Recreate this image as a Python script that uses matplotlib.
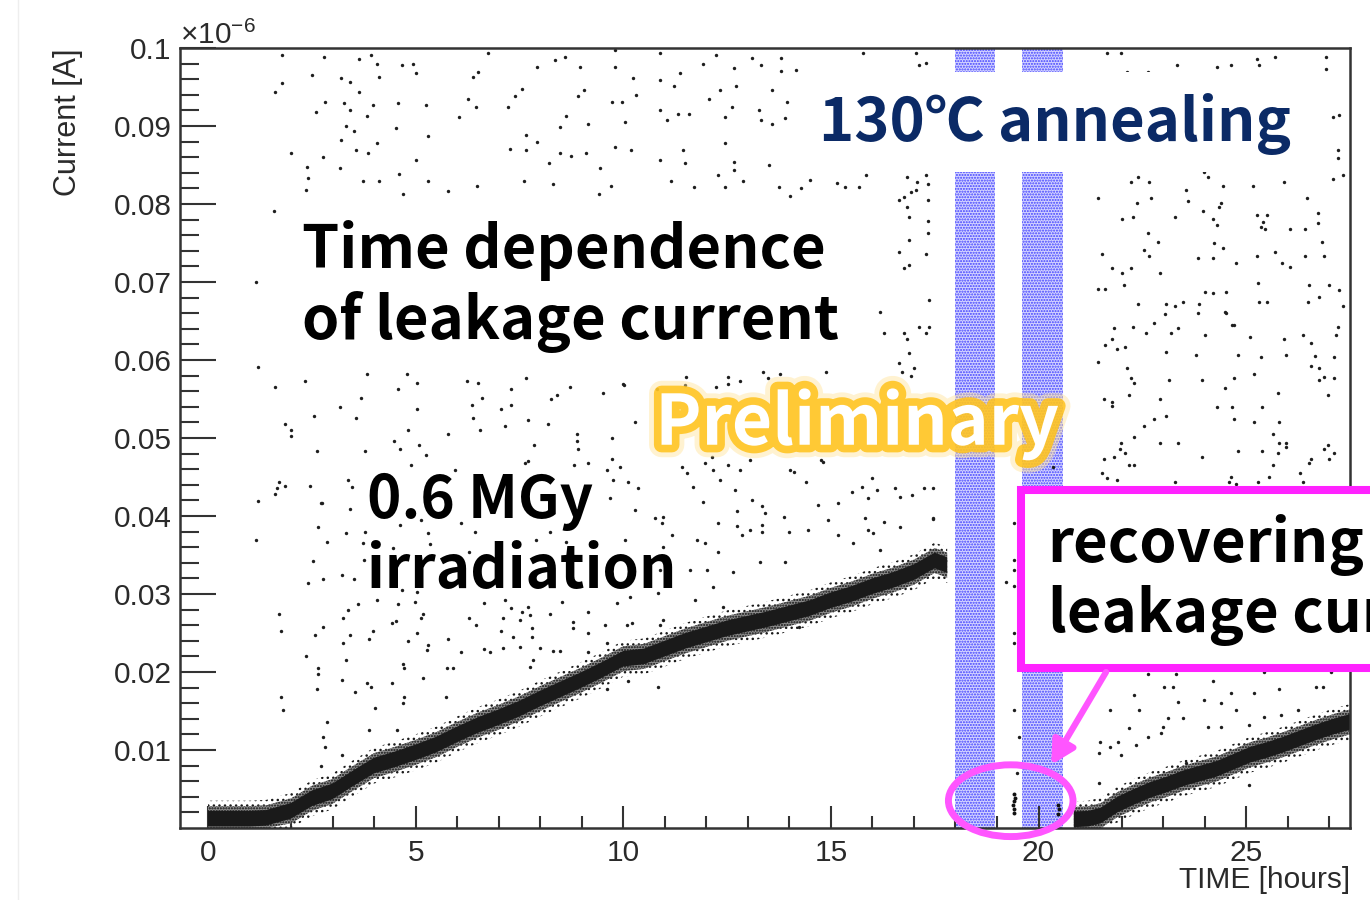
import matplotlib
matplotlib.use('Agg')
import matplotlib.pyplot as plt
import matplotlib.patheffects as pe
from matplotlib.patches import Rectangle, Ellipse
from matplotlib.lines import Line2D
import numpy as np

plt.rcParams['font.family'] = ['Liberation Sans', 'DejaVu Sans']
plt.rcParams['mathtext.fontset'] = 'custom'
plt.rcParams['mathtext.rm'] = 'Liberation Sans'
plt.rcParams['mathtext.it'] = 'Liberation Sans:italic'
plt.rcParams['hatch.linewidth'] = 1.0

JP = ['Noto Sans CJK JP', 'DejaVu Sans']

# ---- data (current in units of 1e-6 A, time in hours) ----
# dense leakage-current band during irradiation
band1_hours = [0.0, 0.5, 1.0, 1.4, 2.0, 2.5, 3.0, 3.5, 4.0, 4.5, 5.0, 5.5, 6.0,
               6.5, 7.0, 7.5, 8.0, 8.5, 9.0, 9.5, 10.0, 10.5, 11.0, 11.5, 12.0,
               12.5, 13.0, 13.5, 14.0, 14.5, 15.0, 15.5, 16.0, 16.5, 17.0,
               17.5, 17.8]
band1_center = [0.0012, 0.0012, 0.0012, 0.0013, 0.0022, 0.0038, 0.0047, 0.0064,
                0.0080, 0.0088, 0.0097, 0.0107, 0.0120, 0.0132, 0.0142, 0.0153,
                0.0166, 0.0178, 0.0190, 0.0203, 0.0217, 0.0220, 0.0230, 0.0240,
                0.0248, 0.0256, 0.0262, 0.0268, 0.0275, 0.0282, 0.0292, 0.0300,
                0.0310, 0.0318, 0.0328, 0.0343, 0.0337]

# band after annealing
band2_hours = [20.85, 21.2, 21.5, 21.9, 22.3, 22.7, 23.1, 23.5, 23.9, 24.3,
               24.7, 25.1, 25.5, 25.9, 26.3, 26.7, 27.1, 27.5]
band2_center = [0.0011, 0.0012, 0.0016, 0.0030, 0.0040, 0.0049, 0.0056, 0.0064,
                0.0070, 0.0076, 0.0085, 0.0094, 0.0100, 0.0107, 0.0115, 0.0123,
                0.0130, 0.0136]

band_halfwidth = 0.0010

# points measured between the two annealing steps
gap_hours = [19.40, 19.42, 19.38, 19.41, 19.43, 19.40, 20.47, 20.49, 20.48]
gap_current = [0.0019, 0.0024, 0.0029, 0.0034, 0.0039, 0.0044, 0.0018, 0.0024, 0.0030]

# annealing periods (hours)
anneal_periods = [(18.0, 18.96), (19.6, 20.58)]

# sparse noise points
noise_upper = [
    (1.78, .0991), (2.79, .0989), (3.63, .0986), (3.93, .0991), (4.06, .0980), (4.68, .0978),
    (4.94, .0980), (5.00, .0968), (1.61, .0943), (1.78, .0955), (2.50, .0965), (3.20, .0961),
    (3.41, .0957), (3.63, .0943), (4.11, .0963), (2.82, .0931), (2.61, .0918), (3.28, .0930),
    (3.41, .0921), (3.84, .0913), (3.97, .0927), (4.57, .0930), (5.24, .0927), (3.33, .0900),
    (3.52, .0893), (3.20, .0882), (4.08, .0878), (3.57, .0869), (3.86, .0866), (4.53, .0898),
    (5.30, .0887), (6.05, .0912), (6.37, .0963), (6.51, .0969), (6.26, .0935), (6.45, .0925),
    (7.23, .0925), (7.39, .0938), (7.55, .0948), (6.75, .0993), (7.93, .0976), (8.36, .0984),
    (8.60, .0989), (8.95, .0976), (9.06, .0946), (8.90, .0938), (8.63, .0913), (8.47, .0899),
    (9.14, .0903), (7.66, .0888), (7.93, .0880), (7.28, .0871), (7.66, .0869), (8.47, .0865),
    (8.74, .0861), (9.11, .0866), (8.20, .0853), (7.61, .0829), (8.31, .0826), (6.48, .0823),
    (5.78, .0817), (5.30, .0829), (4.60, .0839), (4.11, .0829), (3.73, .0829), (3.18, .0846),
    (2.39, .0848), (2.42, .0833), (2.37, .0818), (2.01, .0866), (2.77, .0860), (5.00, .0856),
    (4.70, .0813), (9.81, .0976), (9.81, .0997), (10.24, .0961), (10.30, .0940), (9.74, .0931),
    (9.97, .0931), (10.03, .0905), (9.81, .0873), (10.19, .0869), (9.44, .0846), (9.71, .0823),
    (9.41, .0813), (10.89, .0993), (10.89, .0959), (11.21, .0951), (11.37, .0968), (10.89, .0921),
    (11.05, .0908), (11.32, .0915), (11.59, .0916), (10.89, .0856), (11.16, .0829), (11.43, .0869),
    (11.48, .0852), (11.70, .0822), (11.91, .0979), (12.23, .0991), (12.07, .0935), (12.34, .0946),
    (12.45, .0912), (12.61, .0925), (12.72, .0951), (12.66, .0974), (13.09, .0987), (13.31, .0978),
    (13.79, .0987), (13.79, .0970), (14.17, .0972), (13.58, .0946), (13.95, .0931), (13.26, .0921),
    (13.31, .0908), (13.58, .0903), (13.90, .0910), (12.45, .0878), (12.66, .0854), (12.29, .0837),
    (12.66, .0844), (13.52, .0850), (12.45, .0822), (12.88, .0829), (13.74, .0822), (14.01, .0810),
    (14.28, .0820), (14.49, .0831), (15.14, .0827), (15.35, .0822), (15.67, .0822), (15.84, .0837),
    (15.78, .0993), (1.59, .0791), (17.04, .0994), (17.11, .0978), (17.28, .0981), (21.66, .0994),
    (21.98, .0994), (22.14, .0969), (22.63, .0969), (23.33, .0978), (24.29, .0976), (24.63, .0978),
    (25.25, .0986), (25.30, .0978), (25.69, .0988), (26.92, .0988), (26.92, .0973), (27.08, .0912),
    (27.23, .0914), (27.20, .0869), (27.20, .0859), (27.08, .0832), (27.33, .0837), (22.22, .0828),
    (22.39, .0835), (22.67, .0828), (23.98, .0841), (24.07, .0835), (24.43, .0823), (25.16, .0823),
    (25.90, .0828), (21.42, .0808), (22.36, .0801), (22.72, .0808), (23.54, .0818), (23.59, .0804),
    (24.39, .0801), (24.34, .0796), (26.46, .0808), (16.63, .0805), (16.75, .0809), (16.92, .0815),
    (17.04, .0818), (16.84, .0835), (17.08, .0828), (17.28, .0837), (17.35, .0826), (17.35, .0805),
]

noise_middle = [
    (16.84, .0796), (16.87, .0783), (17.35, .0778), (17.35, .0763), (16.87, .0754), (16.63, .0738),
    (17.28, .0736), (16.87, .0722), (16.77, .0718), (17.37, .0677), (16.19, .0662), (16.27, .0635),
    (16.77, .0635), (16.84, .0627), (17.13, .0642), (17.28, .0635), (17.37, .0642), (16.89, .0609),
    (16.63, .0596), (16.72, .0585), (16.92, .0580), (16.99, .0590), (14.89, .0585), (13.78, .0582),
    (13.37, .0585), (13.49, .0577), (12.51, .0578), (12.80, .0573), (12.53, .0569), (12.24, .0565),
    (11.52, .0578), (11.49, .0568), (10.82, .0563), (10.02, .0568), (9.52, .0558), (1.16, .0700),
    (1.20, .0591), (1.61, .0565), (2.34, .0573), (3.83, .0582), (4.80, .0582), (5.04, .0571),
    (4.58, .0563), (3.69, .0551), (3.18, .0540), (2.55, .0528), (3.57, .0526), (5.04, .0537),
    (6.24, .0573), (6.50, .0571), (6.60, .0551), (6.36, .0542), (6.39, .0526), (7.06, .0537),
    (7.30, .0563), (7.30, .0542), (7.66, .0577), (8.27, .0550), (8.41, .0555), (8.72, .0565),
    (7.71, .0523), (7.16, .0515), (8.19, .0518), (6.55, .0510), (5.78, .0505), (4.82, .0510),
    (4.48, .0496), (4.63, .0486), (5.08, .0491), (5.25, .0478), (3.78, .0483), (2.63, .0483),
    (2.00, .0510), (2.00, .0503), (1.86, .0518), (7.86, .0491), (8.89, .0505), (8.89, .0496),
    (8.92, .0486), (7.64, .0468), (7.71, .0470), (8.82, .0465), (9.16, .0468), (4.89, .0465),
    (1.71, .0444), (1.66, .0436), (1.61, .0428), (1.86, .0438), (2.46, .0438), (1.20, .0419),
    (2.75, .0417), (3.37, .0446), (3.47, .0437), (5.95, .0459), (10.00, .0569), (10.29, .0521),
    (9.73, .0500), (9.73, .0473), (9.93, .0463), (9.61, .0459), (10.36, .0436), (10.12, .0444),
    (9.76, .0446), (9.69, .0423), (10.29, .0408), (10.77, .0397), (10.94, .0391), (11.18, .0376),
    (10.96, .0360), (11.42, .0463), (11.54, .0455), (11.98, .0468), (12.14, .0476), (12.34, .0446),
    (11.69, .0437), (11.93, .0418), (12.51, .0465), (12.70, .0433), (13.11, .0420), (12.75, .0406),
    (13.35, .0413), (13.86, .0399), (13.42, .0404), (13.35, .0388), (13.35, .0380), (13.06, .0382),
    (12.75, .0387), (12.87, .0376), (12.29, .0391), (11.78, .0369), (11.98, .0365), (13.98, .0380),
    (14.46, .0382), (14.10, .0456), (14.39, .0444), (14.70, .0414), (14.92, .0395), (15.16, .0376),
    (15.18, .0417), (15.52, .0431), (15.76, .0437), (16.12, .0433), (15.90, .0423), (16.55, .0436),
    (16.67, .0424), (16.96, .0427), (17.23, .0436), (17.45, .0436), (16.00, .0449), (15.83, .0397),
    (16.27, .0392), (16.67, .0386), (17.45, .0397), (15.90, .0382), (16.02, .0378), (15.54, .0365),
    (16.19, .0356), (14.75, .0472), (14.82, .0469), (14.02, .0459), (12.82, .0459), (13.06, .0472),
    (12.17, .0459), (10.96, .0399), (12.27, .0354), (12.65, .0328), (13.30, .0341), (13.90, .0341),
    (12.02, .0331), (11.61, .0331), (10.89, .0331), (10.05, .0369), (10.17, .0335), (10.84, .0301),
    (10.17, .0296), (9.86, .0288), (10.96, .0267), (11.73, .0292), (12.17, .0309), (12.41, .0283),
    (10.22, .0263), (9.57, .0260),
    # right of the annealing periods
    (22.02, .0781), (22.27, .0783), (23.28, .0783), (23.95, .0791), (24.19, .0781), (24.29, .0773),
    (25.25, .0786), (25.40, .0777), (25.49, .0786), (25.35, .0771), (25.45, .0768), (26.05, .0768),
    (26.41, .0768), (26.72, .0788), (26.72, .0776), (22.63, .0763), (22.87, .0751), (22.53, .0741),
    (22.67, .0733), (21.52, .0736), (24.22, .0750), (24.43, .0744), (23.83, .0731), (24.19, .0731),
    (24.75, .0724), (25.25, .0733), (25.69, .0738), (25.86, .0724), (26.05, .0719), (26.41, .0733),
    (26.82, .0751), (26.87, .0733), (21.78, .0718), (22.02, .0712), (22.22, .0718), (22.92, .0712),
    (22.05, .0696), (21.42, .0691), (21.61, .0691), (25.28, .0699), (24.02, .0687), (24.19, .0686),
    (24.51, .0687), (26.51, .0696), (26.99, .0696), (27.23, .0690), (22.39, .0672), (23.08, .0672),
    (23.28, .0669), (23.49, .0674), (23.86, .0672), (25.30, .0674), (25.49, .0674), (26.48, .0674),
    (26.75, .0681), (27.33, .0669), (23.04, .0659), (23.83, .0660), (24.51, .0660), (22.77, .0647),
    (24.67, .0645), (21.81, .0641), (22.27, .0642), (23.37, .0641), (27.20, .0642), (23.18, .0635),
    (22.58, .0635), (21.78, .0627), (21.61, .0619), (21.88, .0614), (22.07, .0617), (21.42, .0597),
    (22.12, .0590), (22.22, .0577), (22.29, .0571), (22.17, .0555), (21.57, .0550), (21.78, .0546),
    (21.78, .0541), (23.08, .0610), (23.78, .0606), (24.02, .0632), (24.48, .0662), (24.70, .0645),
    (24.80, .0606), (25.08, .0630), (25.35, .0604), (25.90, .0627), (26.36, .0632), (26.55, .0622),
    (25.95, .0606), (26.65, .0605), (27.11, .0604), (27.16, .0632), (26.55, .0592), (26.75, .0590),
    (26.87, .0578), (26.75, .0574), (27.11, .0577), (25.18, .0582), (24.70, .0577), (23.93, .0574),
    (23.13, .0574), (24.48, .0564), (25.76, .0558), (26.96, .0555), (22.92, .0550), (24.29, .0540),
    (24.65, .0540), (25.39, .0540), (23.08, .0528), (22.77, .0524), (22.53, .0515), (24.70, .0524),
    (25.18, .0521), (25.78, .0521), (22.31, .0501), (22.92, .0494), (23.37, .0494), (25.64, .0505),
    (25.78, .0494), (25.95, .0494), (25.95, .0488), (21.98, .0494), (21.95, .0486), (22.07, .0481),
    (21.57, .0473), (21.81, .0476), (24.80, .0483), (25.39, .0483), (25.76, .0481), (26.87, .0486),
    (26.96, .0491), (27.11, .0481), (26.99, .0473), (23.93, .0476), (22.17, .0465), (22.31, .0465),
    (25.64, .0465), (26.55, .0473), (26.51, .0468), (21.52, .0455), (21.66, .0449), (21.88, .0446),
    (23.28, .0444), (24.63, .0450), (24.58, .0444), (24.75, .0441), (25.28, .0444), (25.54, .0450),
    (26.29, .0455), (26.36, .0444), (17.45, .0396), (20.36, .0463),
]

noise_lower = [
    (1.16, .0369), (2.65, .0386), (2.87, .0367), (2.53, .0342), (2.41, .0314), (2.77, .0319),
    (3.23, .0324), (3.52, .0319), (3.33, .0378), (3.78, .0380), (3.73, .0365), (3.76, .0344),
    (3.42, .0409), (2.72, .0417), (1.71, .0274), (1.76, .0253), (2.36, .0221), (2.58, .0247),
    (2.77, .0258), (2.65, .0205), (2.65, .0197), (2.63, .0178), (1.76, .0168), (1.81, .0151),
    (2.87, .0136), (2.77, .0117), (2.82, .0104), (2.72, .0079), (3.23, .0190), (3.23, .0094),
    (3.25, .0237), (3.33, .0215), (3.25, .0269), (3.37, .0279), (3.42, .0247), (3.61, .0287),
    (3.54, .0174), (3.83, .0186), (3.93, .0181), (3.88, .0242), (3.98, .0253), (4.02, .0154),
    (3.88, .0126), (4.07, .0292), (4.43, .0263), (4.53, .0265), (4.58, .0287), (4.43, .0186),
    (4.70, .0210), (4.72, .0205), (4.70, .0160), (4.72, .0168), (4.55, .0126), (4.82, .0240),
    (4.99, .0290), (5.04, .0250), (5.13, .0269), (5.18, .0274), (5.18, .0192), (5.30, .0235),
    (5.28, .0228), (5.78, .0242), (5.76, .0205), (5.90, .0205), (5.73, .0168), (6.10, .0226),
    (6.29, .0269), (6.46, .0260), (6.65, .0288), (6.65, .0229), (6.80, .0226), (7.06, .0253),
    (7.11, .0269), (7.11, .0231), (7.16, .0292), (7.30, .0282), (7.35, .0245), (7.52, .0232),
    (7.52, .0267), (7.57, .0277), (7.71, .0283), (7.76, .0273), (7.81, .0256), (7.81, .0245),
    (8.00, .0231), (7.76, .0206), (7.83, .0215), (8.24, .0274), (8.31, .0227), (8.48, .0227),
    (8.53, .0290), (8.80, .0264), (8.80, .0256), (9.16, .0277), (9.16, .0250), (9.16, .0226),
    (7.90, .0369), (8.63, .0367), (8.24, .0380), (6.43, .0380), (6.29, .0354), (6.10, .0391),
    (5.04, .0303), (4.63, .0388), (5.30, .0378), (5.13, .0395), (5.35, .0364), (4.46, .0359),
    (4.67, .0305), (9.61, .0237), (10.12, .0188), (10.84, .0181), (9.61, .0178), (10.10, .0260),
    (10.89, .0260), (14.22, .0258),
    # gap between annealing steps
    (19.40, .0391), (19.40, .0344), (19.40, .0331), (19.21, .0315), (19.40, .0310), (19.40, .0250),
    (19.40, .0237), (19.40, .0151), (19.49, .0070), (19.52, .0117),
    # below the callout box
    (22.63, .0197), (23.30, .0197), (24.19, .0188), (25.42, .0200), (27.05, .0200), (22.29, .0171),
    (23.01, .0181), (23.23, .0181), (23.98, .0164), (24.39, .0160), (24.63, .0173), (25.18, .0173),
    (25.78, .0178), (26.67, .0181), (26.84, .0181), (21.73, .0151), (22.41, .0151), (23.35, .0162),
    (24.75, .0151), (23.11, .0141), (23.49, .0141), (24.07, .0129), (24.39, .0129), (22.99, .0129),
    (22.17, .0128), (22.63, .0117), (22.94, .0122), (25.06, .0132), (25.42, .0142), (25.83, .0145),
    (26.24, .0151), (21.49, .0110), (21.73, .0104), (21.92, .0110), (21.98, .0094), (21.45, .0096),
    (21.45, .0058), (22.34, .0106), (23.54, .0083), (25.06, .0055),
]


fig = plt.figure(figsize=(13.7, 9), dpi=100)
ax = fig.add_axes([180 / 1370, 72 / 900, 1170 / 1370, 780 / 900])
ax.set_xlim(-0.674, 27.50)
ax.set_ylim(0, 0.1)

# annealing periods: stippled blue
for t0, t1 in anneal_periods:
    ax.axvspan(t0, t1, facecolor='#d4d4ff', edgecolor='#4040ff', hatch='......',
               linewidth=0, zorder=1)

# dense bands: dark core plus stippled fringe
for hours, center in [(band1_hours, band1_center), (band2_hours, band2_center)]:
    c = np.array(center)
    ax.fill_between(hours, np.clip(c - 2.3 * band_halfwidth, 0, None), c + 2.3 * band_halfwidth,
                    facecolor='none', edgecolor='#1a1a1a', hatch='...', linewidth=0, zorder=2)
    ax.fill_between(hours, np.clip(c - 1.6 * band_halfwidth, 0, None), c + 1.6 * band_halfwidth,
                    facecolor='#8c8c8c', edgecolor='#111111', hatch='......', linewidth=0, zorder=2)
    ax.fill_between(hours, np.clip(c - band_halfwidth, 0, None), c + band_halfwidth,
                    facecolor='#1a1a1a', edgecolor='none', linewidth=0, zorder=2)

# sparse points
for pts in [noise_upper, noise_middle, noise_lower]:
    t, cur = zip(*pts)
    ax.scatter(t, cur, s=6, marker='o', color='#1e1e1e', linewidths=0, zorder=2)
ax.scatter(gap_hours, gap_current, s=8, marker='o', color='#111111', linewidths=0, zorder=2)

# axis style (ROOT like)
for sp in ax.spines.values():
    sp.set_linewidth(1.8)
    sp.set_color('#333333')
ax.set_xticks([0, 5, 10, 15, 20, 25])
ax.set_xticks(np.arange(0, 28, 1), minor=True)
ax.set_yticks([0.01, 0.02, 0.03, 0.04, 0.05, 0.06, 0.07, 0.08, 0.09, 0.1])
ax.set_yticklabels(['0.01', '0.02', '0.03', '0.04', '0.05', '0.06', '0.07', '0.08', '0.09', '0.1'])
ax.set_yticks(np.arange(0.002, 0.1, 0.002), minor=True)
ax.tick_params(axis='both', which='both', direction='in', top=False, right=False,
               colors='#333333', labelcolor='#2a2a2a', labelsize=21.5, width=1.5)
ax.tick_params(axis='y', which='major', length=26, pad=6)
ax.tick_params(axis='y', which='minor', length=14)
ax.tick_params(axis='x', which='major', length=16, pad=8)
ax.tick_params(axis='x', which='minor', length=8.5)

fig.text(1350 / 1370, 1 - 880 / 900, 'TIME [hours]', ha='right', va='center',
         fontsize=21.5, color='#2a2a2a')
fig.text(68 / 1370, 1 - 48 / 900, 'Current [A]', ha='center', va='top', rotation=90,
         fontsize=22, color='#2a2a2a')
fig.text(180 / 1370, 1 - 44 / 900, r'$\times10^{-6}$', ha='left', va='baseline',
         fontsize=21.5, color='#2a2a2a')
fig.add_artist(Line2D([18 / 1370, 18 / 1370], [0, 1], color='#eeeeee', lw=1))

# slide annotations
ax.add_patch(Rectangle((2.1, 0.0606), 13.25, 0.0193, facecolor='white',
                       edgecolor='none', zorder=3))
ax.text(2.27, 0.0694, 'Time dependence\nof leakage current', family=JP, weight='bold',
        fontsize=43, color='black', ha='left', va='center', linespacing=1.2, zorder=4)

ax.text(3.83, 0.0374, '0.6 MGy\nirradiation', family=JP, weight='bold', fontsize=42,
        color='black', ha='left', va='center', linespacing=1.22, zorder=4)

ax.add_patch(Rectangle((14.63, 0.0841), 11.8, 0.0128, facecolor='white',
                       edgecolor='none', zorder=3))
ax.text(14.72, 0.0903, '130℃ annealing', family=JP, weight='bold', fontsize=43,
        color='#0b2a66', ha='left', va='center', zorder=4)

glow = [pe.Stroke(linewidth=18, foreground='#ffe49a', alpha=0.45),
        pe.Stroke(linewidth=11, foreground='#ffc21a', alpha=0.85),
        pe.Normal()]
ax.text(10.77, 0.0517, 'Preliminary', family=JP, weight='bold', fontsize=50,
        color='white', ha='left', va='center', zorder=6, path_effects=glow)

# callout
ax.add_patch(Rectangle((19.57, 0.0205), 12.0, 0.0228, facecolor='white',
                       edgecolor='#ff22ff', linewidth=5.8, clip_on=False, zorder=7))
ax.text(20.22, 0.0318, 'recovering\nleakage current', family=JP, weight='bold',
        fontsize=43, color='black', ha='left', va='center', linespacing=1.2,
        zorder=8, clip_on=False)
ax.annotate('', xy=(20.27, 0.0078), xytext=(21.66, 0.0203),
            arrowprops=dict(arrowstyle='-|>,head_length=1.4,head_width=0.75',
                            color='#ff55ff', lw=4.5), zorder=8)
ax.add_patch(Ellipse((19.33, 0.0035), 3.0, 0.0092, fill=False, edgecolor='#ff55ff',
                     linewidth=5, clip_on=False, zorder=8))

fig.savefig('out.png', dpi=100)
